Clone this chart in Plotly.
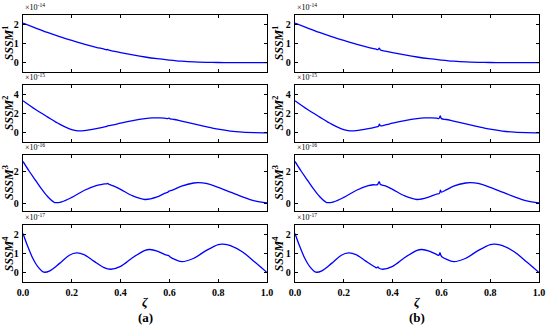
import plotly.graph_objects as go

# ---------------- data ----------------
# Panel 1: SSSM^1 (x1e-14)
zeta_1 = [0.0, 0.05, 0.1, 0.15, 0.2, 0.25, 0.3, 0.4, 0.45, 0.5, 0.55, 0.6, 0.65, 0.7, 0.75, 0.8, 0.85, 0.9, 0.95, 1.0]
base_1 = [2.07, 1.82, 1.58, 1.36, 1.16, 0.97, 0.80, 0.52, 0.40, 0.29, 0.20, 0.13, 0.07, 0.03, 0.01, 0.0, -0.01, -0.01, -0.01, -0.01]
glitch_1a = [(0.33, 0.715), (0.343, 0.67), (0.347, 0.685), (0.352, 0.65), (0.37, 0.60)]
glitch_1b = [(0.33, 0.715), (0.340, 0.68), (0.345, 0.76), (0.350, 0.66), (0.37, 0.60)]

# Panel 2: SSSM^2 (x1e-15)
zeta_2 = [0.0, 0.05, 0.1, 0.15, 0.2, 0.225, 0.25, 0.3, 0.4, 0.45, 0.5, 0.53, 0.56, 0.65, 0.7, 0.75, 0.8, 0.85, 0.9, 0.95, 1.0]
base_2 = [3.35, 2.45, 1.65, 0.88, 0.30, 0.18, 0.20, 0.40, 0.98, 1.25, 1.46, 1.54, 1.54, 1.20, 0.92, 0.62, 0.35, 0.15, 0.04, -0.01, -0.03]
glitch_2a = [(0.33, 0.57), (0.343, 0.65), (0.347, 0.70), (0.355, 0.73), (0.37, 0.80),
             (0.58, 1.51), (0.593, 1.47), (0.597, 1.52), (0.603, 1.44), (0.62, 1.37)]
glitch_2b = [(0.33, 0.57), (0.342, 0.65), (0.346, 0.88), (0.350, 0.71), (0.37, 0.80),
             (0.58, 1.51), (0.590, 1.48), (0.595, 1.76), (0.600, 1.46), (0.62, 1.37)]

# Panel 3: SSSM^3 (x1e-16)
zeta_3 = [0.0, 0.025, 0.05, 0.075, 0.1, 0.13, 0.16, 0.2, 0.25, 0.3, 0.4, 0.45, 0.5, 0.55, 0.65, 0.7, 0.72, 0.75, 0.8, 0.85, 0.9, 0.95, 1.0]
base_3 = [2.6, 2.0, 1.45, 0.9, 0.42, 0.03, 0.08, 0.35, 0.78, 1.08, 0.85, 0.44, 0.22, 0.38, 1.05, 1.25, 1.27, 1.22, 0.98, 0.68, 0.38, 0.13, 0.0]
glitch_3a = [(0.32, 1.15), (0.336, 1.19), (0.343, 1.2), (0.347, 1.22), (0.353, 1.16), (0.37, 1.07),
             (0.58, 0.60), (0.594, 0.68), (0.598, 0.74), (0.605, 0.77), (0.62, 0.85)]
glitch_3b = [(0.32, 1.14), (0.338, 1.15), (0.345, 1.33), (0.350, 1.16), (0.37, 1.07),
             (0.58, 0.55), (0.592, 0.60), (0.596, 0.80), (0.600, 0.68), (0.62, 0.82)]

# Panel 4: SSSM^4 (x1e-17)
zeta_4 = [0.0, 0.02, 0.04, 0.06, 0.085, 0.11, 0.15, 0.19, 0.22, 0.25, 0.29, 0.33, 0.36, 0.4, 0.45, 0.5, 0.52, 0.55, 0.58,
          0.62, 0.65, 0.7, 0.75, 0.8, 0.82, 0.85, 0.9, 0.95, 1.0]
base_4 = [2.05, 1.35, 0.75, 0.32, 0.02, 0.09, 0.48, 0.91, 1.03, 0.94, 0.60, 0.27, 0.17, 0.32, 0.79, 1.17, 1.21, 1.13, 0.95,
          0.70, 0.57, 0.75, 1.15, 1.47, 1.49, 1.42, 1.08, 0.55, 0.0]
glitch_4a = [(0.59, 0.91), (0.595, 0.90), (0.598, 0.88), (0.603, 0.82)]
glitch_4b = [(0.335, 0.24), (0.340, 0.30), (0.345, 0.22),
             (0.59, 0.91), (0.594, 1.05), (0.598, 0.90), (0.603, 0.82)]

y_ranges = [[-0.5, 2.5], [-1, 5], [-0.5, 3], [-0.5, 2.5]]
y_ticks = [[0, 1, 2], [0, 2, 4], [0, 2], [0, 1, 2]]
exponents = ["-14", "-15", "-16", "-17"]
x_ticks = [0.0, 0.2, 0.4, 0.6, 0.8, 1.0]
panel_labels = ["(a)", "(b)"]

zetas = [zeta_1, zeta_2, zeta_3, zeta_4]
bases = [base_1, base_2, base_3, base_4]
glitches = [[glitch_1a, glitch_1b], [glitch_2a, glitch_2b], [glitch_3a, glitch_3b], [glitch_4a, glitch_4b]]

# ---------------- layout geometry ----------------
W, H = 550, 329
col_px = [(23, 267), (295, 539)]
row_px = [(15, 72), (85, 142), (155, 211), (225, 282)]
FONT = "Liberation Serif"

def px_x(p):
    return p / W

def px_y(p):
    return 1 - p / H

fig = go.Figure()
layout = dict(
    width=W, height=H,
    margin=dict(l=0, r=0, t=0, b=0, autoexpand=False),
    paper_bgcolor="white", plot_bgcolor="white",
    showlegend=False,
    font=dict(family=FONT, color="black"),
)
annotations = []

tickfont = dict(family=FONT, size=10, color="black", weight="bold")

for c in range(2):
    for r in range(4):
        idx = c * 4 + r + 1
        pts = sorted(list(zip(zetas[r], bases[r])) + glitches[r][c])
        xs = [p[0] for p in pts]
        ys = [p[1] for p in pts]
        xa = "x" if idx == 1 else f"x{idx}"
        ya = "y" if idx == 1 else f"y{idx}"
        fig.add_trace(go.Scatter(x=xs, y=ys, mode="lines", xaxis=xa, yaxis=ya,
                                 line=dict(color="#0000ff", width=1.3, shape="spline", smoothing=0.9),
                                 hoverinfo="skip"))
        x0, x1 = col_px[c]
        y0, y1 = row_px[r]
        common = dict(showline=True, linecolor="black", linewidth=1.3, mirror="ticks",
                      ticks="inside", ticklen=3, tickwidth=1, tickcolor="black",
                      showgrid=False, zeroline=False, tickfont=tickfont, automargin=False)
        layout["xaxis" if idx == 1 else f"xaxis{idx}"] = dict(
            common, domain=[px_x(x0), px_x(x1)], range=[0, 1], tickvals=x_ticks,
            tickformat=".1f", showticklabels=(r == 3), anchor=ya, ticklabelstandoff=1)
        layout["yaxis" if idx == 1 else f"yaxis{idx}"] = dict(
            common, domain=[px_y(y1), px_y(y0)], range=y_ranges[r], tickvals=y_ticks[r],
            anchor=xa, ticklabelstandoff=1)
        # exponent label
        annotations.append(dict(x=px_x(x0), y=px_y(y0 - 1), xref="paper", yref="paper",
                                xanchor="left", yanchor="bottom", showarrow=False,
                                text=f"×10<sup>{exponents[r]}</sup>",
                                font=dict(family=FONT, size=8, color="black")))
        # y title
        annotations.append(dict(x=px_x(8 if c == 0 else 278), y=px_y((y0 + y1) / 2),
                                xref="paper", yref="paper", xanchor="center", yanchor="middle",
                                showarrow=False, textangle=-90,
                                text=f"<b><i>SSSM</i><sup>{r + 1}</sup></b>",
                                font=dict(family=FONT, size=12, color="black")))
    xc = (col_px[c][0] + col_px[c][1]) / 2
    annotations.append(dict(x=px_x(xc), y=px_y(301), xref="paper", yref="paper",
                            xanchor="center", yanchor="middle", showarrow=False,
                            text="<b><i>ζ</i></b>", font=dict(family=FONT, size=13, color="black")))
    annotations.append(dict(x=px_x(xc), y=px_y(317), xref="paper", yref="paper",
                            xanchor="center", yanchor="middle", showarrow=False,
                            text=f"<b>{panel_labels[c]}</b>", font=dict(family=FONT, size=13, color="black")))

layout["annotations"] = annotations
fig.update_layout(**layout)
fig.write_html("out.html", config={"displayModeBar": False},
               post_script="document.body.style.margin='0';document.body.style.padding='0';document.documentElement.style.overflow='hidden';")
